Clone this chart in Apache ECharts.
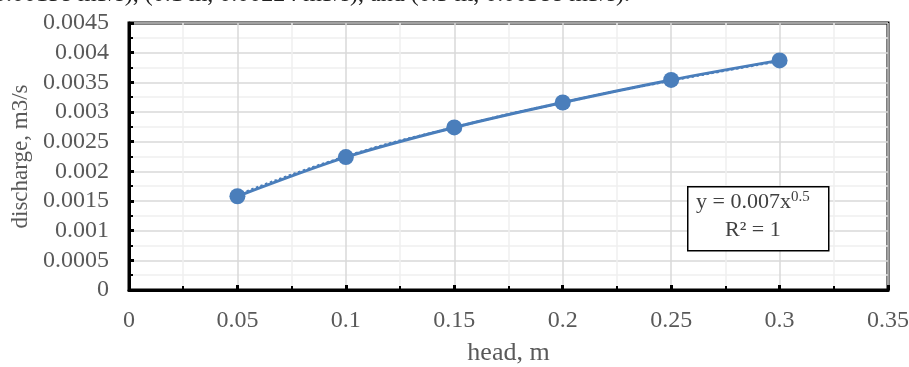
<!DOCTYPE html>
<html><head><meta charset="utf-8">
<script src="https://cdn.jsdelivr.net/npm/echarts@6/dist/echarts.min.js"></script>
<style>html,body{margin:0;padding:0;background:#fff}#c{width:909px;height:367px}</style>
</head><body><div id="c"></div>
<script>
const headM = [0.05, 0.1, 0.15, 0.2, 0.25, 0.3];
const dischargeM3s = [0.00158, 0.00224, 0.00274, 0.00316, 0.00354, 0.00387];
const trendM3s = [0.00160, 0.00225, 0.00274, 0.00316, 0.00353, 0.00386];
const xTicks = [0, 0.05, 0.1, 0.15, 0.2, 0.25, 0.3, 0.35];
const yTicks = [0, 0.0005, 0.001, 0.0015, 0.002, 0.0025, 0.003, 0.0035, 0.004, 0.0045];
const topText = '0.00158 m3/s), (0.1 m, 0.00224 m3/s), and (0.3 m, 0.00388 m3/s).';

const font = 'Liberation Serif';
const chart = echarts.init(document.getElementById('c'));
chart.setOption({
  animation: false,
  grid: {left: 129, right: 21, top: 23, bottom: 77, show: true, borderColor: '#000', borderWidth: 3,
    containLabel: false, outerBoundsMode: 'none'},
  xAxis: {
    type: 'value', min: xTicks[0], max: xTicks[xTicks.length-1], interval: 0.05,
    name: 'head, m', nameLocation: 'middle', nameGap: 50,
    nameTextStyle: {fontFamily: font, fontSize: 26, color: '#595959'},
    axisLine: {show: true, onZero: false, lineStyle: {color: '#000', width: 3}},
    axisTick: {show: true, inside: true, length: 5, lineStyle: {color: '#000', width: 3}},
    minorTick: {show: true, splitNumber: 2, length: 4, lineStyle: {color: '#000', width: 2}},
    axisLabel: {fontFamily: font, fontSize: 24, color: '#595959', margin: 19,
      formatter: v => String(+v.toFixed(3))},
    splitLine: {show: true, lineStyle: {color: '#d9d9d9', width: 1.5}},
    minorSplitLine: {show: true, lineStyle: {color: '#efefef', width: 1.5}}
  },
  yAxis: {
    type: 'value', min: yTicks[0], max: yTicks[yTicks.length-1], interval: 0.0005,
    name: 'discharge, m3/s', nameLocation: 'middle', nameGap: 97,
    nameTextStyle: {fontFamily: font, fontSize: 23, color: '#595959'},
    axisLine: {show: true, onZero: false, lineStyle: {color: '#000', width: 3}},
    axisTick: {show: true, inside: true, length: 5, lineStyle: {color: '#000', width: 3}},
    minorTick: {show: true, splitNumber: 2, length: 4, lineStyle: {color: '#000', width: 2}},
    axisLabel: {fontFamily: font, fontSize: 24, color: '#595959', margin: 20,
      formatter: v => String(+v.toFixed(4))},
    splitLine: {show: true, lineStyle: {color: '#d9d9d9', width: 1.5}},
    minorSplitLine: {show: true, lineStyle: {color: '#efefef', width: 1.5}}
  },
  series: [
    {type: 'line', data: headM.map((x, i) => [x, trendM3s[i]]), smooth: true, symbol: 'none',
      lineStyle: {color: '#4a7ebb', width: 2.5, type: 'dotted'}, z: 2},
    {type: 'line', data: headM.map((x, i) => [x, dischargeM3s[i]]), smooth: 0.3,
      symbol: 'circle', symbolSize: 16,
      lineStyle: {color: '#4a7ebb', width: 3}, itemStyle: {color: '#4a7ebb'}, z: 3}
  ],
  graphic: [
    {type: 'text', left: -6, top: -17, style: {text: topText, fontFamily: font, fontSize: 24, fill: '#222'}},
    {type: 'rect', left: 687, top: 186, shape: {width: 141, height: 64},
      style: {fill: '#fff', stroke: '#000', lineWidth: 1.5}, z: 10},
    {type: 'text', left: 696, top: 190, z: 11,
      style: {text: '{a|y = 0.007x}{s|0.5}', rich: {
        a: {fontFamily: font, fontSize: 22, fill: '#404040'},
        s: {fontFamily: font, fontSize: 15, fill: '#404040', verticalAlign: 'top', padding: [0,0,10,0]}}}},
    {type: 'text', left: 725, top: 219, z: 11,
      style: {text: 'R² = 1', fontFamily: font, fontSize: 22, fill: '#404040'}}
  ]
});
</script></body></html>
